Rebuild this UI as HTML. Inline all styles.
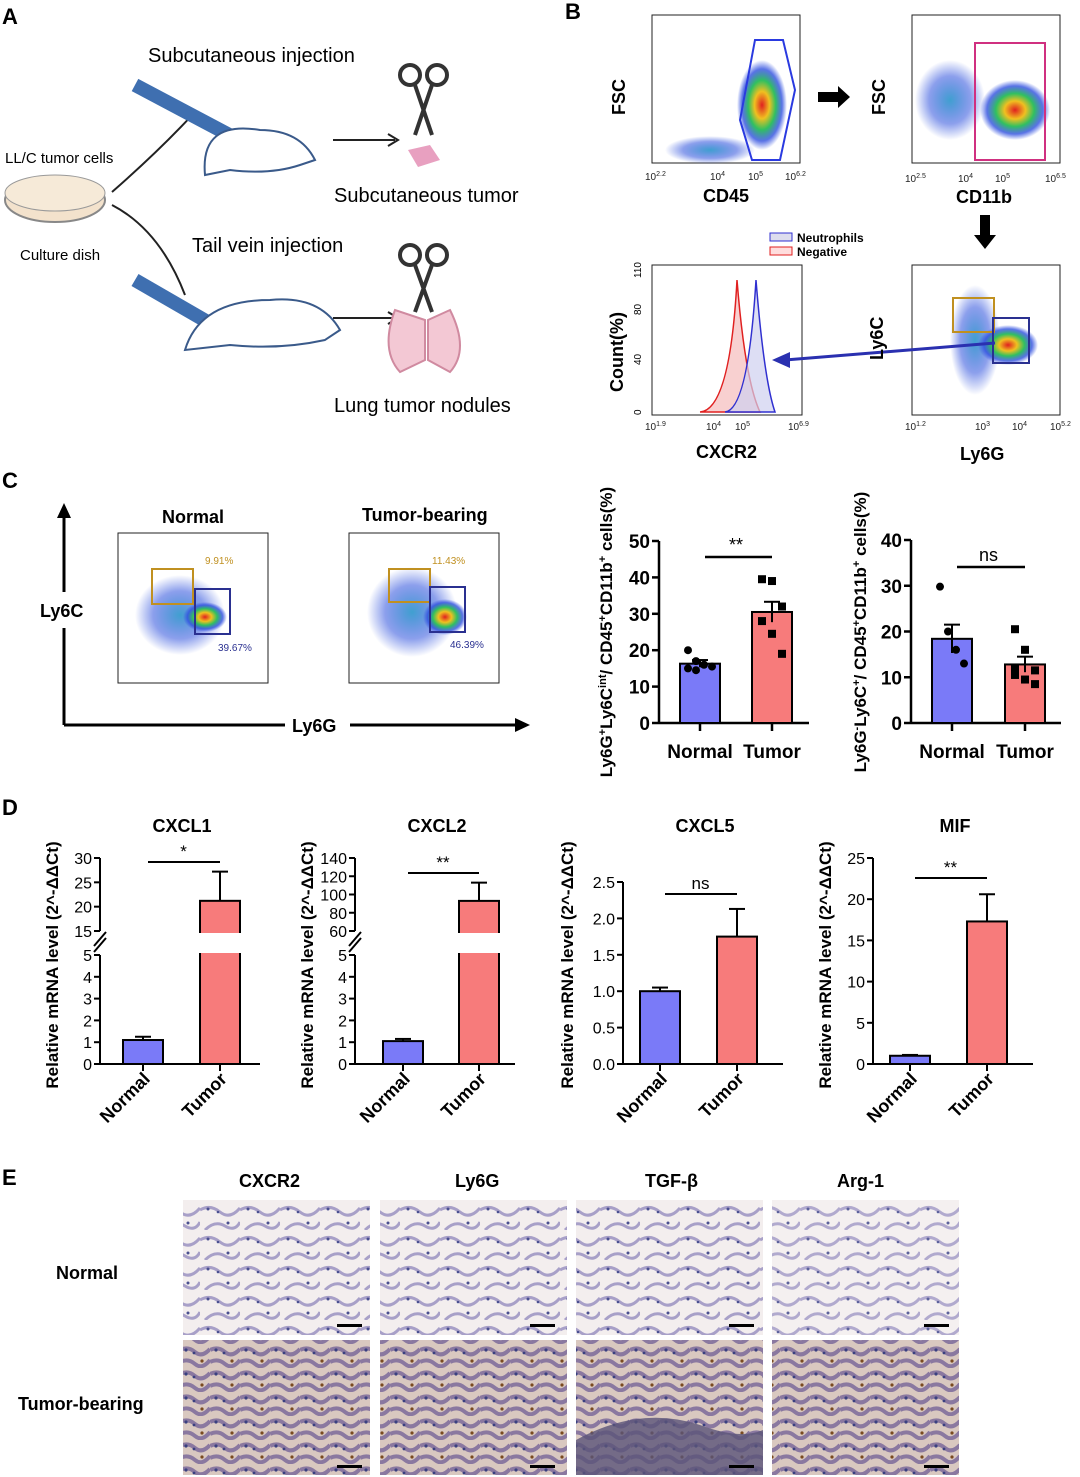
<!DOCTYPE html>
<html><head><meta charset="utf-8"><style>
html,body{margin:0;padding:0;background:#fff;width:1080px;height:1477px;overflow:hidden}
svg{display:block;font-family:"Liberation Sans",Arial,sans-serif}
</style></head><body>
<svg id="fig" width="1080" height="1477" viewBox="0 0 1080 1477" xmlns="http://www.w3.org/2000/svg">
<defs>
<radialGradient id="heat" cx="50%" cy="50%" r="50%">
<stop offset="0" stop-color="#e02020"/><stop offset="0.3" stop-color="#f0c020"/><stop offset="0.55" stop-color="#30c060"/><stop offset="0.8" stop-color="#3050e0" stop-opacity="0.8"/><stop offset="1" stop-color="#3050e0" stop-opacity="0"/>
</radialGradient>
<radialGradient id="blue" cx="50%" cy="50%" r="50%">
<stop offset="0" stop-color="#40a0d0"/><stop offset="0.6" stop-color="#4060e0" stop-opacity="0.6"/><stop offset="1" stop-color="#4060e0" stop-opacity="0"/>
</radialGradient>
<pattern id="lungN" width="40" height="30" patternUnits="userSpaceOnUse">
<rect width="40" height="30" fill="#f3eeee"/><path d="M0 10 Q10 4 20 12 T40 8 M5 30 Q15 20 25 26 T40 22" stroke="#a8a0c8" stroke-width="3" fill="none"/><circle cx="8" cy="9" r="1.5" fill="#4a5090"/><circle cx="28" cy="23" r="1.5" fill="#4a5090"/><circle cx="18" cy="12" r="1.3" fill="#4a5090"/>
</pattern>
<pattern id="lungT" width="30" height="24" patternUnits="userSpaceOnUse">
<rect width="30" height="24" fill="#d9c8c0"/><path d="M0 6 Q8 2 15 8 T30 5 M0 18 Q8 14 15 20 T30 16" stroke="#8a78a0" stroke-width="4" fill="none"/><circle cx="6" cy="6" r="1.6" fill="#3a4080"/><circle cx="22" cy="17" r="1.6" fill="#7a4a20"/><circle cx="14" cy="9" r="1.4" fill="#3a4080"/>
</pattern>
</defs>
<g id="panelA">
<text x="2" y="24" font-size="22" font-weight="bold">A</text>
<text x="148" y="62" font-size="20">Subcutaneous injection</text>
<text x="5" y="163" font-size="15">LL/C tumor cells</text>
<ellipse cx="55" cy="200" rx="50" ry="22" fill="#f3e2cc" stroke="#888" stroke-width="2"/>
<ellipse cx="55" cy="193" rx="50" ry="18" fill="#f6ead8" stroke="#999"/>
<text x="20" y="260" font-size="15">Culture dish</text>
<path d="M112 192 Q160 150 195 112 M112 205 Q160 230 185 295" stroke="#222" stroke-width="2" fill="none"/>
<line x1="135" y1="85" x2="235" y2="138" stroke="#3f6fb0" stroke-width="14"/>
<line x1="135" y1="280" x2="225" y2="332" stroke="#3f6fb0" stroke-width="14"/>
<path d="M205 175 Q200 120 260 130 Q300 130 315 160 L300 165 Q270 175 230 170 Z" fill="#fff" stroke="#3a5a8a" stroke-width="2"/>
<path d="M185 350 Q200 300 270 300 Q320 295 340 330 L325 340 Q280 350 230 345 Z" fill="#fff" stroke="#3a5a8a" stroke-width="2"/>
<line x1="333" y1="140" x2="395" y2="140" stroke="#222" stroke-width="2"/><path d="M388 134 L398 140 L388 146" fill="none" stroke="#222" stroke-width="2"/>
<line x1="333" y1="318" x2="395" y2="318" stroke="#222" stroke-width="2"/><path d="M388 312 L398 318 L388 324" fill="none" stroke="#222" stroke-width="2"/>
<g stroke="#333" stroke-width="4" fill="none"><circle cx="410" cy="75" r="10"/><circle cx="437" cy="75" r="10"/><line x1="415" y1="85" x2="432" y2="135"/><line x1="432" y1="85" x2="415" y2="135"/>
<circle cx="410" cy="255" r="10"/><circle cx="437" cy="255" r="10"/><line x1="415" y1="265" x2="432" y2="312"/><line x1="432" y1="265" x2="415" y2="312"/></g>
<path d="M408 150 L430 145 L440 160 L418 167 Z" fill="#e8a0c0"/>
<path d="M395 310 Q380 350 400 372 L425 360 L425 320 Z M450 310 Q470 350 450 372 L428 360 L428 320 Z" fill="#f3c8d4" stroke="#d08aa0" stroke-width="2"/>
<text x="334" y="202" font-size="20">Subcutaneous tumor</text>
<text x="192" y="252" font-size="20">Tail vein injection</text>
<text x="334" y="412" font-size="20">Lung tumor nodules</text>
</g>
<g id="panelB">
<text x="565" y="19" font-size="22" font-weight="bold">B</text>
<rect x="652" y="15" width="148" height="148" fill="#fff" stroke="#222"/>
<ellipse cx="710" cy="150" rx="45" ry="14" fill="url(#blue)"/><ellipse cx="762" cy="105" rx="25" ry="45" fill="url(#heat)"/>
<path d="M740 120 L755 40 L783 40 L795 90 L780 160 L752 160 Z" fill="none" stroke="#2a3ae0" stroke-width="2"/>
<g font-size="10" fill="#222"><text x="645" y="180">10<tspan font-size="7" dy="-4">2.2</tspan></text><text x="710" y="180">10<tspan font-size="7" dy="-4">4</tspan></text><text x="748" y="180">10<tspan font-size="7" dy="-4">5</tspan></text><text x="785" y="180">10<tspan font-size="7" dy="-4">6.2</tspan></text>
<text x="905" y="182">10<tspan font-size="7" dy="-4">2.5</tspan></text><text x="958" y="182">10<tspan font-size="7" dy="-4">4</tspan></text><text x="995" y="182">10<tspan font-size="7" dy="-4">5</tspan></text><text x="1045" y="182">10<tspan font-size="7" dy="-4">6.5</tspan></text>
<text x="645" y="430">10<tspan font-size="7" dy="-4">1.9</tspan></text><text x="706" y="430">10<tspan font-size="7" dy="-4">4</tspan></text><text x="735" y="430">10<tspan font-size="7" dy="-4">5</tspan></text><text x="788" y="430">10<tspan font-size="7" dy="-4">6.9</tspan></text>
<text x="905" y="430">10<tspan font-size="7" dy="-4">1.2</tspan></text><text x="975" y="430">10<tspan font-size="7" dy="-4">3</tspan></text><text x="1012" y="430">10<tspan font-size="7" dy="-4">4</tspan></text><text x="1050" y="430">10<tspan font-size="7" dy="-4">5.2</tspan></text></g>
<text x="703" y="202" font-size="18" font-weight="bold">CD45</text>
<text transform="translate(625 115) rotate(-90)" font-size="18" font-weight="bold">FSC</text>
<path d="M818 92 L838 92 L838 86 L850 97 L838 108 L838 102 L818 102 Z" fill="#000"/>
<rect x="912" y="15" width="148" height="148" fill="#fff" stroke="#222"/>
<ellipse cx="950" cy="100" rx="35" ry="40" fill="url(#blue)"/><ellipse cx="1015" cy="110" rx="35" ry="30" fill="url(#heat)"/>
<rect x="975" y="43" width="70" height="117" fill="none" stroke="#d03080" stroke-width="2"/>
<text x="956" y="203" font-size="18" font-weight="bold">CD11b</text>
<text transform="translate(885 115) rotate(-90)" font-size="18" font-weight="bold">FSC</text>
<path d="M980 215 L990 215 L990 235 L996 235 L985 249 L974 235 L980 235 Z" fill="#000"/>
<rect x="652" y="265" width="150" height="150" fill="#fff" stroke="#222"/>
<path d="M700 412 Q730 410 737 280 Q745 380 760 412 Z" fill="#f8d0d0" stroke="#e02020" stroke-width="1.5"/>
<path d="M725 412 Q748 410 756 280 Q764 380 775 412 Z" fill="#cfd0f0" fill-opacity="0.7" stroke="#3030d0" stroke-width="1.5"/>
<g font-size="10"><text transform="translate(641 415) rotate(-90)">0</text><text transform="translate(641 365) rotate(-90)">40</text><text transform="translate(641 315) rotate(-90)">80</text><text transform="translate(641 278) rotate(-90)">110</text></g>
<rect x="770" y="233" width="22" height="8" fill="#dde" stroke="#3030d0"/><text x="797" y="242" font-size="12" font-weight="bold">Neutrophils</text>
<rect x="770" y="247" width="22" height="8" fill="#fdd" stroke="#e02020"/><text x="797" y="256" font-size="12" font-weight="bold">Negative</text>
<text x="696" y="458" font-size="18" font-weight="bold">CXCR2</text>
<text transform="translate(623 392) rotate(-90)" font-size="18" font-weight="bold">Count(%)</text>
<rect x="912" y="265" width="148" height="150" fill="#fff" stroke="#222"/>
<ellipse cx="975" cy="340" rx="25" ry="55" fill="url(#blue)"/><ellipse cx="1008" cy="345" rx="30" ry="20" fill="url(#heat)"/>
<rect x="953" y="298" width="41" height="34" fill="none" stroke="#c09020" stroke-width="2"/><rect x="993" y="318" width="36" height="45" fill="none" stroke="#2a3090" stroke-width="2"/>
<line x1="995" y1="343" x2="785" y2="360" stroke="#2a30b0" stroke-width="3"/><path d="M772 360 L790 352 L790 368 Z" fill="#2a30b0"/>
<text x="960" y="460" font-size="18" font-weight="bold">Ly6G</text>
<text transform="translate(883 360) rotate(-90)" font-size="18" font-weight="bold">Ly6C</text>
</g>
<g id="panelC-flow">
<text x="2" y="488" font-size="22" font-weight="bold">C</text>
<line x1="64" y1="725" x2="64" y2="512" stroke="#000" stroke-width="3"/><path d="M57 518 L64 503 L71 518 Z"/>
<line x1="64" y1="725" x2="285" y2="725" stroke="#000" stroke-width="3"/>
<line x1="350" y1="725" x2="518" y2="725" stroke="#000" stroke-width="3"/><path d="M515 718 L530 725 L515 732 Z"/>
<rect x="36" y="592" width="54" height="36" fill="#fff"/>
<text x="40" y="617" font-size="18" font-weight="bold">Ly6C</text>
<text x="292" y="732" font-size="18" font-weight="bold">Ly6G</text>
<text x="162" y="523" font-size="18" font-weight="bold">Normal</text>
<text x="362" y="521" font-size="18" font-weight="bold">Tumor-bearing</text>
<rect x="118" y="533" width="150" height="150" fill="#fff" stroke="#222"/>
<ellipse cx="180" cy="615" rx="45" ry="40" fill="url(#blue)"/><ellipse cx="205" cy="617" rx="22" ry="15" fill="url(#heat)"/>
<rect x="152" y="569" width="41" height="35" fill="none" stroke="#c09020" stroke-width="2"/><rect x="195" y="589" width="35" height="45" fill="none" stroke="#2a3090" stroke-width="2"/>
<text x="205" y="564" font-size="10" fill="#c09020">9.91%</text><text x="218" y="651" font-size="10" fill="#2a3090">39.67%</text>
<rect x="349" y="533" width="150" height="150" fill="#fff" stroke="#222"/>
<ellipse cx="412" cy="612" rx="45" ry="45" fill="url(#blue)"/><ellipse cx="445" cy="617" rx="22" ry="18" fill="url(#heat)"/>
<rect x="389" y="569" width="41" height="33" fill="none" stroke="#c09020" stroke-width="2"/><rect x="430" y="587" width="35" height="45" fill="none" stroke="#2a3090" stroke-width="2"/>
<text x="432" y="564" font-size="10" fill="#c09020">11.43%</text><text x="450" y="648" font-size="10" fill="#2a3090">46.39%</text>
</g>
<text x="2" y="815" font-size="22" font-weight="bold">D</text>
<g id="charts"></g>
<g id="panelE">
<text x="2" y="1185" font-size="22" font-weight="bold">E</text>
<text x="239" y="1187" font-size="18" font-weight="bold">CXCR2</text>
<text x="455" y="1187" font-size="18" font-weight="bold">Ly6G</text>
<text x="645" y="1187" font-size="18" font-weight="bold">TGF-β</text>
<text x="837" y="1187" font-size="18" font-weight="bold">Arg-1</text>
<text x="56" y="1279" font-size="18" font-weight="bold">Normal</text>
<text x="18" y="1410" font-size="18" font-weight="bold">Tumor-bearing</text>
<g>
<rect x="183" y="1200" width="187" height="135" fill="url(#lungN)"/>
<rect x="380" y="1200" width="187" height="135" fill="url(#lungN)"/>
<rect x="576" y="1200" width="187" height="135" fill="url(#lungN)"/>
<rect x="772" y="1200" width="187" height="135" fill="url(#lungN)" opacity="0.9"/>
</g>
<g>
<rect x="183" y="1340" width="187" height="135" fill="url(#lungT)"/>
<rect x="380" y="1340" width="187" height="135" fill="url(#lungT)"/>
<rect x="576" y="1340" width="187" height="135" fill="url(#lungT)"/>
<path d="M576 1475 L576 1440 Q640 1405 700 1425 Q740 1440 763 1430 L763 1475 Z" fill="#5a5478" opacity="0.8"/>
<rect x="772" y="1340" width="187" height="135" fill="url(#lungT)"/>
</g>
<g fill="#000"><rect x="337" y="1324" width="25" height="3"/><rect x="530" y="1324" width="25" height="3"/><rect x="729" y="1324" width="25" height="3"/><rect x="924" y="1324" width="25" height="3"/>
<rect x="337" y="1465" width="25" height="3"/><rect x="530" y="1465" width="25" height="3"/><rect x="729" y="1465" width="25" height="3"/><rect x="924" y="1465" width="25" height="3"/></g>
</g>
</svg>
<script>
// Panel C bar charts
const cCategories = ['Normal', 'Tumor'];
const c1Means = [16.3, 30.5];
const c1Sems = [1.0, 2.8];
const c1NormalPts = [20, 17, 16, 15.5, 15, 14.5];
const c1TumorPts = [39.5, 39, 32, 28, 24.5, 19];
const c2Means = [18.4, 12.8];
const c2Sems = [3.1, 1.7];
const c2NormalPts = [29.8, 20, 16, 13];
const c2TumorPts = [20.5, 16, 11.5, 10.5, 9.5, 8.5, 12];
const c1Ticks = [0, 10, 20, 30, 40, 50];
const c2Ticks = [0, 10, 20, 30, 40];
// Panel D
const dTitles = ['CXCL1', 'CXCL2', 'CXCL5', 'MIF'];
const dMeans = [[1.1, 21.2], [1.05, 93], [1.0, 1.75], [1.0, 17.3]];
const dSems = [[0.15, 6], [0.1, 20], [0.05, 0.38], [0.1, 3.3]];
const dSig = ['*', '**', 'ns', '**'];
const dLowTicks = [0, 1, 2, 3, 4, 5];
const dHighTicks1 = [15, 20, 25, 30];
const dHighTicks2 = [60, 80, 100, 120, 140];
const dTicks3 = [0.0, 0.5, 1.0, 1.5, 2.0, 2.5];
const dTicks4 = [0, 5, 10, 15, 20, 25];

const NS = 'http://www.w3.org/2000/svg';
const root = document.getElementById('charts');
const BLUE = '#7a7af8', RED = '#f77b7b';
function mk(tag, attrs, parent) {
  const e = document.createElementNS(NS, tag);
  for (const k in attrs) e.setAttribute(k, attrs[k]);
  (parent || root).appendChild(e);
  return e;
}
function txt(x, y, s, size, anchor, parent, extra) {
  const t = mk('text', Object.assign({x: x, y: y, 'font-size': size, 'text-anchor': anchor || 'start'}, extra || {}), parent);
  t.textContent = s;
  return t;
}

function cChart(ax, y0, yTop, maxV, ticks, means, sems, ptsN, ptsT, barX, sig, sigY, name) {
  const g = mk('g', {});
  
  
  const ys = v => y0 - v * (y0 - yTop) / maxV;
  mk('line', {x1: ax, y1: y0, x2: ax, y2: yTop, stroke: '#000', 'stroke-width': 2.5}, g);
  mk('line', {x1: ax, y1: y0, x2: ax + 150, y2: y0, stroke: '#000', 'stroke-width': 2.5}, g);
  ticks.forEach(t => {
    mk('line', {x1: ax - 7, y1: ys(t), x2: ax, y2: ys(t), stroke: '#000', 'stroke-width': 2.5}, g);
    txt(ax - 9, ys(t) + 7, String(t), 19, 'end', g, {'font-weight': 'bold'});
  });
  means.forEach((m, i) => {
    const x = barX[i];
    const r = mk('rect', {x: x, y: ys(m), width: 40, height: y0 - ys(m), fill: i ? RED : BLUE, stroke: '#000', 'stroke-width': 2}, g);
    
    
    const cx = x + 20;
    mk('line', {x1: cx, y1: ys(m - sems[i]), x2: cx, y2: ys(m + sems[i]), stroke: '#000', 'stroke-width': 2}, g);
    mk('line', {x1: cx - 8, y1: ys(m + sems[i]), x2: cx + 8, y2: ys(m + sems[i]), stroke: '#000', 'stroke-width': 2}, g);
    mk('line', {x1: cx, y1: y0, x2: cx, y2: y0 + 8, stroke: '#000', 'stroke-width': 2.5}, g);
    txt(cx, y0 + 35, cCategories[i], 19, 'middle', g, {'font-weight': 'bold'});
  });
  ptsN.forEach((v, j) => mk('circle', {cx: barX[0] + 8 + (j % 4) * 8, cy: ys(v), r: 4, fill: '#000'}, g));
  ptsT.forEach((v, j) => mk('rect', {x: barX[1] + 6 + (j % 3) * 10, y: ys(v) - 4, width: 8, height: 8, fill: '#000'}, g));
  mk('line', {x1: barX[0] + 25, y1: sigY, x2: barX[1] + 20, y2: sigY, stroke: '#000', 'stroke-width': 2.5}, g);
  txt((barX[0] + barX[1]) / 2 + 20, sigY - 6, sig, 18, 'middle', g);
  return g;
}
const g1 = cChart(659, 723, 541, 50, c1Ticks, c1Means, c1Sems, c1NormalPts, c1TumorPts, [680, 752], '**', 557, 'chart-c-ly6g-pos');
const l1 = txt(0, 0, '', 17, 'middle', g1, {'font-weight': 'bold', transform: 'translate(612 632) rotate(-90)'});
l1.innerHTML = 'Ly6G<tspan baseline-shift="super" font-size="11">+</tspan>Ly6C<tspan baseline-shift="super" font-size="11">int</tspan>/ CD45<tspan baseline-shift="super" font-size="11">+</tspan>CD11b<tspan baseline-shift="super" font-size="11">+</tspan> cells(%)';
const g2 = cChart(911, 723, 540, 40, c2Ticks, c2Means, c2Sems, c2NormalPts, c2TumorPts, [932, 1005], 'ns', 567, 'chart-c-ly6c-pos');
const l2 = txt(0, 0, '', 17, 'middle', g2, {'font-weight': 'bold', transform: 'translate(866 632) rotate(-90)'});
l2.innerHTML = 'Ly6G<tspan baseline-shift="super" font-size="11">-</tspan>Ly6C<tspan baseline-shift="super" font-size="11">+</tspan>/ CD45<tspan baseline-shift="super" font-size="11">+</tspan>CD11b<tspan baseline-shift="super" font-size="11">+</tspan> cells(%)';

// Panel D
const dAxisX = [100, 355, 623, 873];
const dBarX = [[123, 200], [383, 459], [640, 717], [890, 967]];
function makeScale(i) {
  if (i < 2) {
    const hi = i === 0 ? dHighTicks1 : dHighTicks2;
    const lo = hi[0], top = hi[hi.length - 1];
    return v => v <= 5 ? 1064 - v * (1064 - 955) / 5 : 931 - (v - lo) * (931 - 858) / (top - lo);
  }
  const tk = i === 2 ? dTicks3 : dTicks4;
  const mx = tk[tk.length - 1];
  return v => 1064 - v * (1064 - 882 + (i === 3 ? 24 : 0)) / mx;
}
dTitles.forEach((title, i) => {
  const g = mk('g', {});
  
  
  const ys = makeScale(i), ax = dAxisX[i];
  txt(ax + 82, 832, title, 18, 'middle', g, {'font-weight': 'bold'});
  if (i < 2) {
    const hi = i === 0 ? dHighTicks1 : dHighTicks2;
    mk('line', {x1: ax, y1: 1064, x2: ax, y2: 955, stroke: '#000', 'stroke-width': 2}, g);
    mk('line', {x1: ax, y1: 931, x2: ax, y2: 858, stroke: '#000', 'stroke-width': 2}, g);
    mk('line', {x1: ax - 6, y1: 952, x2: ax + 6, y2: 938, stroke: '#000', 'stroke-width': 2}, g);
    mk('line', {x1: ax - 6, y1: 946, x2: ax + 6, y2: 932, stroke: '#000', 'stroke-width': 2}, g);
    dLowTicks.concat(hi).forEach(t => {
      mk('line', {x1: ax - 6, y1: ys(t), x2: ax, y2: ys(t), stroke: '#000', 'stroke-width': 2}, g);
      txt(ax - 8, ys(t) + 6, String(t), 16, 'end', g);
    });
  } else {
    const tk = i === 2 ? dTicks3 : dTicks4;
    mk('line', {x1: ax, y1: 1064, x2: ax, y2: ys(tk[tk.length - 1]), stroke: '#000', 'stroke-width': 2}, g);
    tk.forEach(t => {
      mk('line', {x1: ax - 6, y1: ys(t), x2: ax, y2: ys(t), stroke: '#000', 'stroke-width': 2}, g);
      txt(ax - 8, ys(t) + 6, i === 2 ? t.toFixed(1) : String(t), 16, 'end', g);
    });
  }
  mk('line', {x1: ax, y1: 1064, x2: ax + 160, y2: 1064, stroke: '#000', 'stroke-width': 2}, g);
  dMeans[i].forEach((m, k) => {
    const x = dBarX[i][k];
    const r = mk('rect', {x: x, y: ys(m), width: 40, height: 1064 - ys(m), fill: k ? RED : BLUE, stroke: '#000', 'stroke-width': 2}, g);
    
    
    const cx = x + 20, top = ys(m + dSems[i][k]);
    mk('line', {x1: cx, y1: ys(m), x2: cx, y2: top, stroke: '#000', 'stroke-width': 2}, g);
    mk('line', {x1: cx - 8, y1: top, x2: cx + 8, y2: top, stroke: '#000', 'stroke-width': 2}, g);
    if (i < 2 && m > 5) mk('rect', {x: x - 2, y: 933, width: 44, height: 20, fill: '#fff'}, g);
    mk('line', {x1: cx, y1: 1064, x2: cx, y2: 1071, stroke: '#000', 'stroke-width': 2}, g);
    txt(0, 0, cCategories[k], 18, 'end', g, {'font-weight': 'bold', transform: 'translate(' + (cx + 8) + ' 1080) rotate(-45)'});
  });
  const sy = i === 2 ? 894 : (i === 3 ? 878 : (i === 0 ? 862 : 873));
  mk('line', {x1: dBarX[i][0] + 25, y1: sy, x2: dBarX[i][1] + 20, y2: sy, stroke: '#000', 'stroke-width': 2}, g);
  txt((dBarX[i][0] + dBarX[i][1]) / 2 + 22, sy - 5, dSig[i], 17, 'middle', g);
  txt(0, 0, 'Relative mRNA level (2^-ΔΔCt)', 17, 'middle', g, {'font-weight': 'bold', transform: 'translate(' + (ax - 42 - (i === 2 ? 8 : 0)) + ' 965) rotate(-90)'});
});
</script>
</body></html>
